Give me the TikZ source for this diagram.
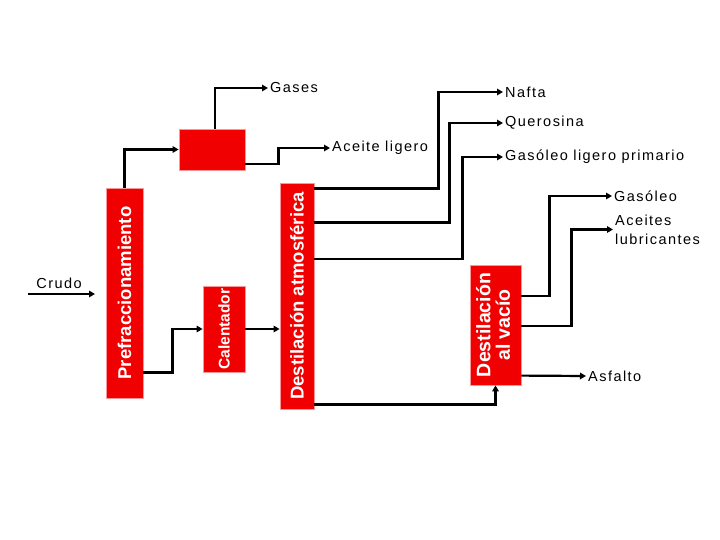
\documentclass[tikz,border=0pt]{standalone}
\usepackage{fontspec}
\setmainfont{Liberation Sans}
\newfontfamily\labfont[LetterSpace=10]{Liberation Sans}
\usetikzlibrary{arrows.meta,calc}
\definecolor{boxred}{RGB}{240,0,0}
\definecolor{boxedge}{RGB}{250,150,150}
\begin{document}
\begin{tikzpicture}[x=1pt,y=-1pt,
  box/.style={draw=boxedge, line width=0.8pt, fill=boxred, inner sep=0pt, text=white},
  flow/.style={draw=black, line width=2.2pt, -{Triangle[length=6pt,width=6.5pt]}},
  lab/.style={anchor=west, inner sep=2pt, text=black, font=\labfont\fontsize{14.5}{19}\selectfont}]
\useasboundingbox (0,0) rectangle (720,540);

% boxes
\node[box, minimum width=37pt, minimum height=210pt, font=\bfseries\fontsize{18.5}{20}\selectfont] (pre) at (124.5,293) {\rotatebox{90}{Prefraccionamiento}};
\node[box, minimum width=66pt, minimum height=41pt] (sep) at (212,149.5) {};
\node[box, minimum width=42pt, minimum height=86pt, font=\bfseries\fontsize{15.5}{17}\selectfont] (cal) at (224,329) {\rotatebox{90}{Calentador}};
\node[box, minimum width=34pt, minimum height=226pt, font=\bfseries\fontsize{18.5}{20}\selectfont] (dat) at (297,296) {\rotatebox{90}{Destilación atmosférica}};
\node[box, minimum width=51pt, minimum height=120pt, font=\bfseries\fontsize{19.5}{17}\selectfont] (dav) at (495.5,325) {\rotatebox{90}{\begin{tabular}{@{}c@{}}Destilación\\al vacío\end{tabular}}};

% labels
\node[lab, anchor=center] (crudo) at (59,283) {Crudo};
\coordinate (c0) at (28,294);
\coordinate (c1) at (95,294);
\node[lab] (gases) at (268,88) {Gases};
\node[lab] (aceite) at (330,148) {Aceite ligero};
\node[lab] (nafta) at (503,92) {Nafta};
\node[lab] (quer) at (503,123) {Querosina};
\node[lab] (glp) at (503,157) {Gasóleo ligero primario};
\node[lab] (gasoleo) at (612,196) {Gasóleo};
\node[lab, align=left] (aceites) at (613,229.5) {Aceites\\lubricantes};
\node[lab] (asfalto) at (586,376) {Asfalto};

% connectors
\draw[flow] (c0) -- (c1);
\draw[flow] (pre.north) |- (sep.west);
\draw[flow] ([xshift=3pt]sep.north) |- (gases.west);
\draw[flow] ($(sep.east)+(0,14.5)$) -- ++(33,0) |- (aceite.west);
\draw[flow] ($(pre.south east)+(0,-26)$) -- ++(29,0) |- (cal.west);
\draw[flow] (cal.east) -- (cal.east -| dat.west);
\draw[flow] ($(dat.north east)+(0,6)$) -- ++(124,0) |- (nafta.west);
\draw[flow] ($(dat.north east)+(0,40)$) -- ++(135,0) |- (quer.west);
\draw[flow] ($(dat.north east)+(0,76)$) -- ++(148,0) |- (glp.west);
\draw[flow] ($(dat.south east)+(0,-5)$) -| (dav.south);
\draw[flow] ($(dav.north east)+(0,31)$) -- ++(28,0) |- (gasoleo.west);
\draw[flow] ($(dav.north east)+(0,61)$) -- ++(50,0) |- (aceites.west);
\draw[flow] ($(dav.north east)+(0,111)$) -- (asfalto.west);
\end{tikzpicture}
\end{document}
